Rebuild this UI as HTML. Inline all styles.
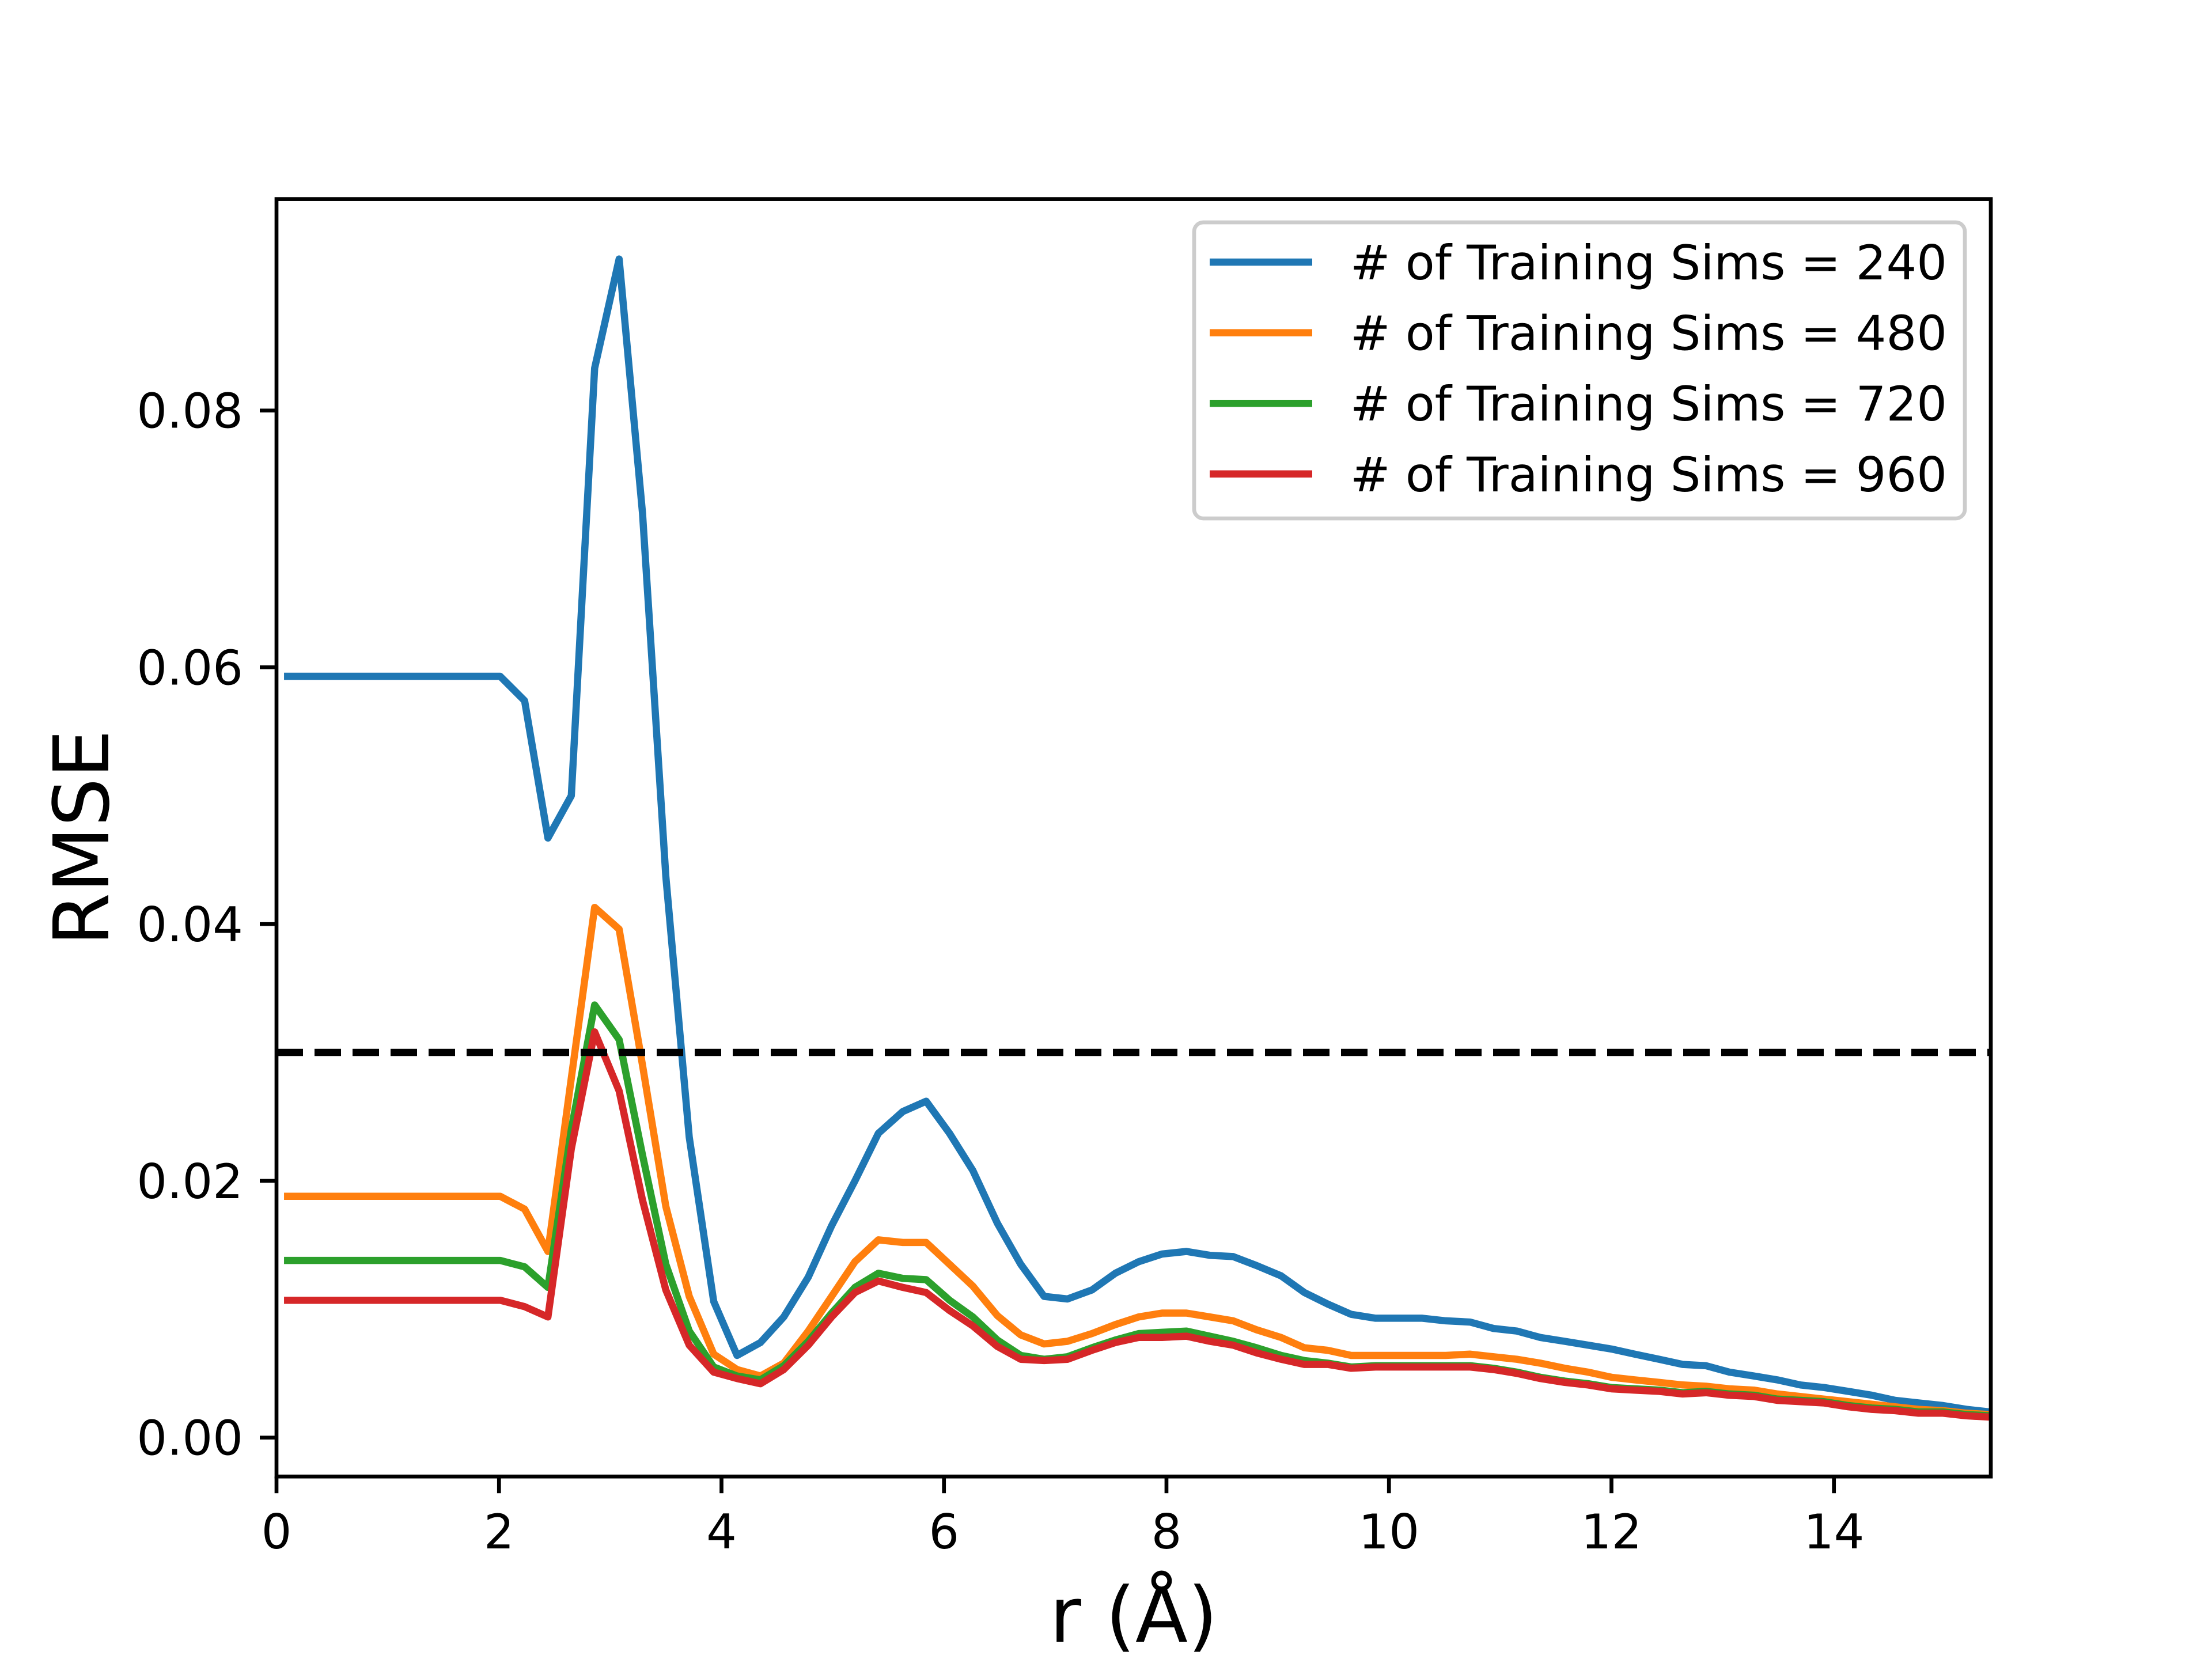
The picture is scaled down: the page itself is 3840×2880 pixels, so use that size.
<!DOCTYPE html>
<html><head><meta charset="utf-8"><style>
html,body{margin:0;padding:0;background:#fff}
svg{display:block}
text{font-family:"DejaVu Sans","Liberation Sans",sans-serif;fill:#000}
</style></head>
<body>
<svg id="chart" xmlns="http://www.w3.org/2000/svg" width="3840" height="2880" viewBox="0 0 3840 2880">
<rect width="3840" height="2880" fill="#fff"/>
<g id="plot"></g>
</svg>
<script>
const rValues = [0.10,0.31,0.53,0.74,0.95,1.16,1.38,1.59,1.80,2.01,2.23,2.44,2.65,2.86,3.08,3.29,3.50,3.71,3.93,4.14,4.35,4.56,4.78,4.99,5.20,5.41,5.63,5.84,6.05,6.26,6.48,6.69,6.90,7.11,7.33,7.54,7.75,7.96,8.18,8.39,8.60,8.81,9.03,9.24,9.45,9.66,9.88,10.09,10.30,10.51,10.73,10.94,11.15,11.36,11.58,11.79,12.00,12.21,12.43,12.64,12.85,13.06,13.28,13.49,13.70,13.91,14.13,14.34,14.55,14.76,14.98,15.19,15.40];
const rmse240 = [0.0593,0.0593,0.0593,0.0593,0.0593,0.0593,0.0593,0.0593,0.0593,0.0593,0.0574,0.0467,0.0500,0.0833,0.0918,0.0720,0.0437,0.0234,0.0106,0.0064,0.0074,0.0094,0.0125,0.0165,0.0200,0.0237,0.0254,0.0262,0.0237,0.0208,0.0167,0.0135,0.0110,0.0108,0.0115,0.0128,0.0137,0.0143,0.0145,0.0142,0.0141,0.0134,0.0126,0.0113,0.0104,0.0096,0.0093,0.0093,0.0093,0.0091,0.0090,0.0085,0.0083,0.0078,0.0075,0.0072,0.0069,0.0065,0.0061,0.0057,0.0056,0.0051,0.0048,0.0045,0.0041,0.0039,0.0036,0.0033,0.0029,0.0027,0.0025,0.0022,0.0020];
const rmse480 = [0.0188,0.0188,0.0188,0.0188,0.0188,0.0188,0.0188,0.0188,0.0188,0.0188,0.0178,0.0145,0.0280,0.0413,0.0396,0.0290,0.0180,0.0110,0.0065,0.0053,0.0048,0.0058,0.0083,0.0110,0.0137,0.0154,0.0152,0.0152,0.0135,0.0118,0.0095,0.0080,0.0073,0.0075,0.0081,0.0088,0.0094,0.0097,0.0097,0.0094,0.0091,0.0084,0.0078,0.0070,0.0068,0.0064,0.0064,0.0064,0.0064,0.0064,0.0065,0.0063,0.0061,0.0058,0.0054,0.0051,0.0047,0.0045,0.0043,0.0041,0.0040,0.0038,0.0037,0.0034,0.0032,0.0030,0.0028,0.0026,0.0024,0.0022,0.0021,0.0019,0.0018];
const rmse720 = [0.0138,0.0138,0.0138,0.0138,0.0138,0.0138,0.0138,0.0138,0.0138,0.0138,0.0133,0.0117,0.0240,0.0337,0.0310,0.0220,0.0135,0.0083,0.0055,0.0048,0.0045,0.0056,0.0075,0.0097,0.0117,0.0128,0.0124,0.0123,0.0107,0.0094,0.0076,0.0064,0.0061,0.0063,0.0070,0.0076,0.0081,0.0082,0.0083,0.0079,0.0075,0.0070,0.0064,0.0060,0.0058,0.0055,0.0056,0.0056,0.0056,0.0056,0.0056,0.0054,0.0051,0.0047,0.0044,0.0042,0.0039,0.0038,0.0037,0.0035,0.0036,0.0034,0.0033,0.0030,0.0029,0.0028,0.0025,0.0023,0.0022,0.0020,0.0020,0.0018,0.0017];
const rmse960 = [0.0107,0.0107,0.0107,0.0107,0.0107,0.0107,0.0107,0.0107,0.0107,0.0107,0.0102,0.0094,0.0225,0.0316,0.0270,0.0185,0.0115,0.0072,0.0051,0.0046,0.0042,0.0053,0.0072,0.0094,0.0113,0.0122,0.0117,0.0113,0.0099,0.0087,0.0071,0.0061,0.0060,0.0061,0.0068,0.0074,0.0078,0.0078,0.0079,0.0075,0.0072,0.0066,0.0061,0.0057,0.0057,0.0054,0.0055,0.0055,0.0055,0.0055,0.0055,0.0053,0.0050,0.0046,0.0043,0.0041,0.0038,0.0037,0.0036,0.0034,0.0035,0.0033,0.0032,0.0029,0.0028,0.0027,0.0024,0.0022,0.0021,0.0019,0.0019,0.0017,0.0016];
const seriesLabels = ["# of Training Sims = 240","# of Training Sims = 480","# of Training Sims = 720","# of Training Sims = 960"];
const threshold = [0.03];
const xTicks = [0,2,4,6,8,10,12,14];
const yTicks = [0.00,0.02,0.04,0.06,0.08];
const yTickLabels = ["0.00","0.02","0.04","0.06","0.08"];

const L=480,R=3456,T=345.6,B=2563.2;
const xMin=0,xMax=15.41,yMin=-0.00303,yMax=0.09647;
const xs=v=>L+(v-xMin)/(xMax-xMin)*(R-L);
const ys=v=>B-(v-yMin)/(yMax-yMin)*(B-T);
const NS="http://www.w3.org/2000/svg";
const g=document.getElementById('plot');
function mk(tag,attrs,parent){const e=document.createElementNS(NS,tag);for(const k in attrs)e.setAttribute(k,attrs[k]);(parent||g).appendChild(e);return e;}

const colors=["#1f77b4","#ff7f0e","#2ca02c","#d62728"];
const series=[rmse240,rmse480,rmse720,rmse960];
const names=["line-240","line-480","line-720","line-960"];
const clip=mk('clipPath',{id:'cp'});mk('rect',{x:L,y:T,width:R-L,height:B-T},clip);
series.forEach((s,k)=>{
  const d=s.map((v,i)=>(i?'L':'M')+xs(rValues[i]).toFixed(1)+','+ys(v).toFixed(1)).join(' ');
  const p=mk('path',{d:d,fill:'none',stroke:colors[k],'stroke-width':12.5,'stroke-linejoin':'round','stroke-linecap':'square','clip-path':'url(#cp)'});
  
  
});
const th=mk('line',{x1:L,x2:R,y1:ys(threshold[0]),y2:ys(threshold[0]),stroke:'#000','stroke-width':12.5,'stroke-dasharray':'46 20'});



xTicks.forEach(t=>{
  const x=xs(t);
  const tk=mk('line',{x1:x,x2:x,y1:B,y2:B+29,stroke:'#000','stroke-width':6.7});
  
  
  const tx=mk('text',{x:x,y:2688,'font-size':83,'text-anchor':'middle'});tx.textContent=t;
  
  
});
yTicks.forEach((t,i)=>{
  const y=ys(t);
  const tk=mk('line',{x1:L-29,x2:L,y1:y,y2:y,stroke:'#000','stroke-width':6.7});
  
  
  const tx=mk('text',{x:422,y:y+30,'font-size':83,'text-anchor':'end'});tx.textContent=yTickLabels[i];
  
  
});
const fr=mk('rect',{x:L,y:T,width:R-L,height:B-T,fill:'none',stroke:'#000','stroke-width':6.7});



const xl=mk('text',{x:(L+R)/2,y:2850,'font-size':133,'text-anchor':'middle'});xl.textContent='r (Å)';


const yl=mk('text',{x:0,y:0,'font-size':133,'text-anchor':'middle',transform:'translate(188,'+((T+B)/2)+') rotate(-90)'});yl.textContent='RMSE';



const lg=mk('g',{});


mk('rect',{x:2073,y:386,width:1338,height:514,rx:16,fill:'#fff','fill-opacity':0.8,stroke:'#cccccc','stroke-width':6.7},lg);
seriesLabels.forEach((lab,k)=>{
  const y=455+k*122.6;
  const ln=mk('line',{x1:2100,x2:2278,y1:y,y2:y,stroke:colors[k],'stroke-width':12.5},lg);
  
  
  const tx=mk('text',{x:2344,y:y+30,'font-size':83,textLength:1036,lengthAdjust:'spacingAndGlyphs'},lg);tx.textContent=lab;
  
  
});
</script>
</body></html>
